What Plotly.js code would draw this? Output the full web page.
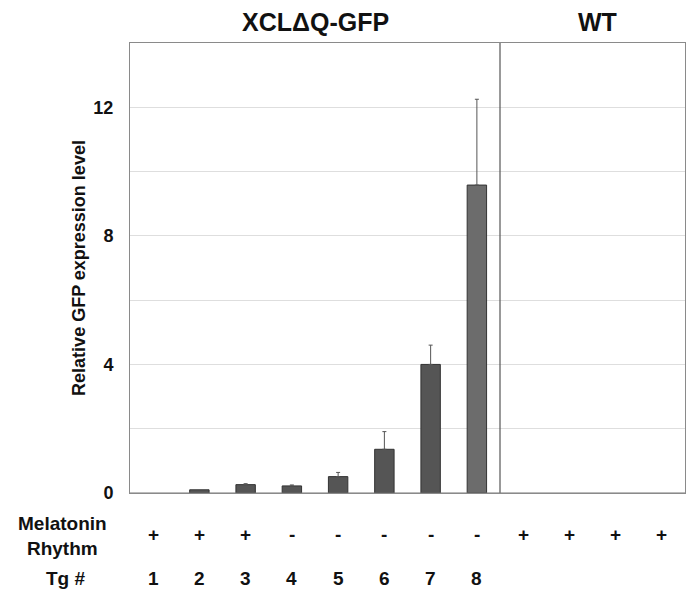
<!DOCTYPE html>
<html>
<head>
<meta charset="utf-8">
<script src="https://cdn.plot.ly/plotly-3.0.1.min.js"></script>
<style>html,body{margin:0;padding:0;background:#fff;}#chart{width:687px;height:591px;}</style>
</head>
<body>
<div id="chart"></div>
<script>
// Data
var positions = [1, 2, 3, 4, 5, 6, 7, 8, 9, 10, 11, 12];
var expression = [0, 0.1, 0.26, 0.22, 0.51, 1.36, 4.0, 9.58, 0, 0, 0, 0];
var errorUpper = [null, null, 0.03, 0.03, 0.13, 0.55, 0.6, 2.67, null, null, null, null];
var melatonin = ['+', '+', '+', '-', '-', '-', '-', '-', '+', '+', '+', '+'];
var tgLabels = ['1', '2', '3', '4', '5', '6', '7', '8', '', '', '', ''];
var groupTitles = ['XCL\u0394Q-GFP', 'WT'];
var groupCenters = [4.5, 10.6];
var yTickVals = [0, 4, 8, 12];
var yTickText = ['0', '4', '8', '12'];

var fontFam = 'Liberation Sans, Arial, sans-serif';
var barColors = positions.map(function (p, i) { return i === 7 ? '#6c6c6c' : '#555555'; });
var barLineWidths = expression.map(function (v) { return v > 0 ? 1 : 0; });

var bars = {
  type: 'bar',
  x: positions,
  y: expression,
  width: 0.42,
  marker: { color: barColors, line: { color: '#333333', width: barLineWidths } },
  hoverinfo: 'x+y'
};

var errIdx = errorUpper.map(function (e, i) { return e === null ? -1 : i; }).filter(function (i) { return i >= 0; });
var errors = {
  type: 'scatter', mode: 'markers',
  x: errIdx.map(function (i) { return positions[i]; }),
  y: errIdx.map(function (i) { return expression[i]; }),
  marker: { size: 1, opacity: 0 },
  error_y: {
    type: 'data', symmetric: false,
    array: errIdx.map(function (i) { return errorUpper[i]; }),
    arrayminus: errIdx.map(function () { return 0; }),
    color: '#555555', thickness: 1, width: 2
  },
  hoverinfo: 'skip'
};

var annotations = [];
positions.forEach(function (p, i) {
  annotations.push({ x: p, y: 0, xref: 'x', yref: 'paper', yshift: -41, text: '<b>' + melatonin[i] + '</b>',
    showarrow: false, font: { family: fontFam, size: 19, color: '#111' }, xanchor: 'center', yanchor: 'middle' });
  if (tgLabels[i]) {
    annotations.push({ x: p, y: 0, xref: 'x', yref: 'paper', yshift: -85, text: '<b>' + tgLabels[i] + '</b>',
      showarrow: false, font: { family: fontFam, size: 19, color: '#111' }, xanchor: 'center', yanchor: 'middle' });
  }
});
groupTitles.forEach(function (t, i) {
  annotations.push({ x: groupCenters[i], y: 1, xref: 'x', yref: 'paper', yshift: 21, text: '<b>' + t + '</b>',
    showarrow: false, font: { family: fontFam, size: 25, color: '#111' }, xanchor: 'center', yanchor: 'middle' });
});
annotations.push({ x: -0.122, y: 0, xref: 'paper', yref: 'paper', yshift: -43, text: '<b>Melatonin<br>Rhythm</b>',
  showarrow: false, font: { family: fontFam, size: 19, color: '#111' }, xanchor: 'center', yanchor: 'middle', align: 'center' });
annotations.push({ x: -0.117, y: 0, xref: 'paper', yref: 'paper', yshift: -85, text: '<b>Tg #</b>',
  showarrow: false, font: { family: fontFam, size: 19, color: '#111' }, xanchor: 'center', yanchor: 'middle' });

var layout = {
  width: 687, height: 591,
  margin: { l: 130, r: 2, t: 43, b: 98 },
  paper_bgcolor: '#ffffff', plot_bgcolor: '#ffffff',
  showlegend: false,
  bargap: 0.5,
  xaxis: {
    range: [0.5, 12.5], showticklabels: false, showgrid: false, zeroline: false,
    showline: true, mirror: true, linecolor: '#8a8a8a', linewidth: 1, fixedrange: true
  },
  yaxis: {
    range: [0, 14], tickvals: yTickVals, ticktext: yTickText,
    tickfont: { family: fontFam, size: 18, color: '#111', weight: 'bold' },
    ticks: '', ticklabelstandoff: 12,
    showgrid: true, gridcolor: '#dedede', gridwidth: 1,
    minor: { dtick: 2, tick0: 0, showgrid: true, gridcolor: '#dedede', gridwidth: 1 },
    zeroline: false, showline: true, mirror: true, linecolor: '#8a8a8a', linewidth: 1,
    title: { text: '<b>Relative GFP expression level</b>', standoff: 3,
      font: { family: fontFam, size: 18, color: '#111' } },
    fixedrange: true
  },
  shapes: [
    { type: 'line', xref: 'x', yref: 'y', x0: 8.5, x1: 8.5, y0: -0.35, y1: 14, line: { color: '#555555', width: 1.2 } },
    { type: 'line', xref: 'paper', yref: 'y', x0: 0, x1: 1, y0: 0, y1: 0, line: { color: '#777777', width: 1 } }
  ],
  annotations: annotations
};

Plotly.newPlot('chart', [bars, errors], layout, { displayModeBar: false, staticPlot: true });
</script>
</body>
</html>
